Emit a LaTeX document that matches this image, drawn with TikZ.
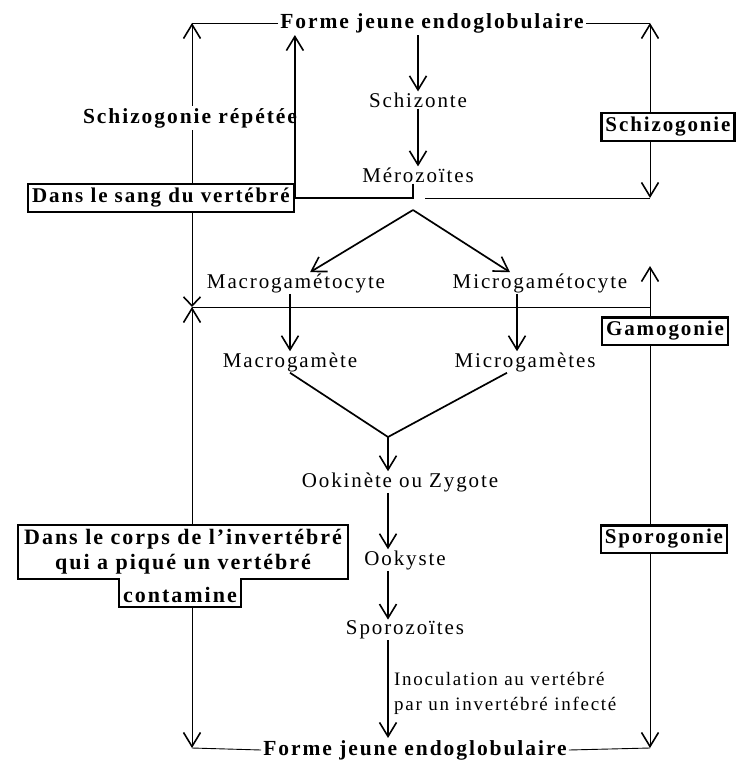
\documentclass[tikz,border=0pt]{standalone}
\usepackage{fontspec}
\setmainfont{Liberation Serif}[LetterSpace=9]
\usetikzlibrary{arrows.meta}

\tikzset{
  lbl/.style={font=\fontsize{21}{24}\selectfont, inner sep=1pt},
  hd/.style={font=\bfseries\fontsize{21.5}{24}\selectfont, inner sep=2pt},
  boxlbl/.style={draw, line width=2.2pt, font=\bfseries\fontsize{21}{24}\selectfont,
    inner xsep=4pt, inner ysep=4pt},
  thn/.style={line width=0.9pt},
  med/.style={line width=1.7pt},
  thk/.style={line width=2.6pt},
  barb/.style={-{Straight Barb[length=14pt,width=17pt,line width=1.6pt]}},
  sbarb/.style={-{Straight Barb[length=9pt,width=17pt,line width=1.6pt]}},
}

\begin{document}
\begin{tikzpicture}[x=1pt,y=-1pt]
  \useasboundingbox (0,0) rectangle (738,765);

  % cycle stages
  \node[hd] (top) at (432,23) {Forme jeune endoglobulaire};
  \node[lbl] (schz) at (418,100) {Schizonte};
  \node[lbl] (mero) at (418,175) {Mérozoïtes};
  \node[lbl] (macgc) at (296,283) {Macrogamétocyte};
  \node[lbl] (micgc) at (540,283) {Microgamétocyte};
  \node[lbl] (macg) at (290,362) {Macrogamète};
  \node[lbl] (micg) at (525,362) {Microgamètes};
  \node[lbl] (ook) at (400,482) {Ookinète ou Zygote};
  \node[lbl] (oky) at (405,560) {Ookyste};
  \node[lbl] (spz) at (405,630) {Sporozoïtes};
  \node[lbl, align=left, anchor=west, font=\fontsize{19}{25}\selectfont] (inoc) at (393,693)
    {Inoculation au vertébré\\par un invertébré infecté};
  \node[hd] (bot) at (415,750) {Forme jeune endoglobulaire};

  % side labels
  \node[hd] (rep) at (190,118) {Schizogonie répétée};
  \node[boxlbl] (sang) at (161,198) {Dans le sang du vertébré};
  \node[boxlbl] (schbox) at (668,127) {Schizogonie};
  \node[boxlbl] (gambox) at (665,331) {Gamogonie};
  \node[boxlbl] (spobox) at (664,539) {Sporogonie};
  \node[font=\bfseries\fontsize{22}{25}\selectfont, align=center, inner xsep=6pt, inner ysep=4pt]
    (corps) at (183,552) {Dans le corps de l'invertébré\\qui a piqué un vertébré};
  \node[font=\bfseries\fontsize{22}{25}\selectfont, inner sep=4pt, anchor=north]
    (cont) at (180,583) {contamine};
  \draw[line width=2.2pt] (corps.north west) -- (corps.north east)
    -- (corps.south east) -- (cont.east |- corps.south) -- (cont.south east)
    -- (cont.south west) -- (cont.west |- corps.south) -- (corps.south west) -- cycle;

  % helper points
  \coordinate (tl) at (192,23);
  \coordinate (tr) at (650,23);
  \coordinate (mj) at (413,198);
  \coordinate (mj2) at (425,198);
  \coordinate (r1) at (650,198);
  \coordinate (split) at (413,210);
  \coordinate (cross) at (192,307);
  \coordinate (r2) at (650,307);
  \coordinate (r3) at (650,266);
  \coordinate (merge) at (388,437);
  \coordinate (bl) at (192,748);
  \coordinate (br) at (650,748);

  % main line
  \draw[thk, barb] (top.south -| schz) -- (schz.north);
  \draw[thk, barb] (schz) -- (mero);
  \draw[thk, barb] (mero.south -| mj) -- (mj) -- (sang.east)
    -- (sang.east |- top.south);
  \draw[med, barb] (split) -- ([xshift=14]macgc.north);
  \draw[med, barb] (split) -- ([xshift=-30]micgc.north);
  \draw[med, barb] (macgc.south -| macg) -- (macg.north);
  \draw[med, barb] ([xshift=-8]micgc.south -| micg) -- ([xshift=-8]micg.north);
  \draw[med] (macg.south) -- (merge) -- ([xshift=-18]micg.south);
  \draw[thk, barb] (merge) -- (ook.north -| merge);
  \draw[thk, barb] (ook.south -| merge) -- (oky.north -| merge);
  \draw[thk, barb] (oky.south -| merge) -- (spz.north -| merge);
  \draw[thk, barb] (spz.south -| merge) -- (bot.north -| merge);

  % left frame
  \draw[thn] (top.west) -- (tl);
  \draw[thn, barb] (rep.north -| tl) -- (tl);
  \draw[thn] (sang.north -| tl) -- (rep.south -| tl);
  \draw[thn, sbarb] (sang.south -| tl) -- (cross);
  \draw[thn, barb] (corps.north -| tl) -- (cross);
  \draw[thn] (cross) -- (r2);
  \draw[thn, barb] (cont.south -| bl) -- (bl);
  \draw[thn] (bot.west) -- (bl);

  % right frame
  \draw[thn] (top.east) -- (tr);
  \draw[thn, barb] (schbox.north -| tr) -- (tr);
  \draw[thn, barb] (schbox.south -| tr) -- (r1);
  \draw[thn] (mj2) -- (r1);
  \draw[thn, barb] (gambox.north -| r2) -- (r3);
  \draw[thn] (gambox.south -| r2) -- (spobox.north -| r2);
  \draw[thn, barb] (spobox.south -| br) -- (br);
  \draw[thn] (bot.east) -- (br);
\end{tikzpicture}
\end{document}
